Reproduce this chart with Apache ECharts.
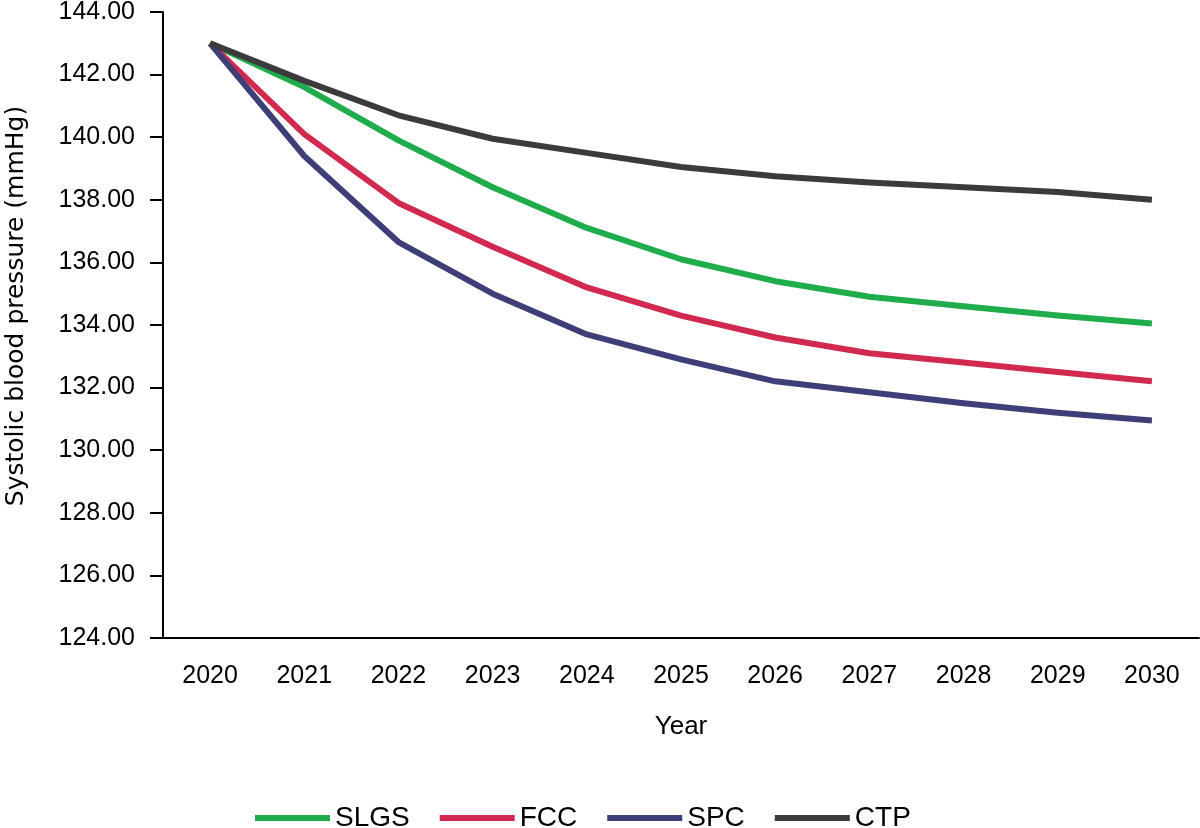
<!DOCTYPE html>
<html>
<head>
<meta charset="utf-8">
<script src="https://cdn.jsdelivr.net/npm/echarts@6/dist/echarts.min.js"></script>
<style>
html,body{margin:0;padding:0;background:#fff;}
#chart{width:1200px;height:828px;}
</style>
</head>
<body>
<div id="chart"></div>
<script>
const years = ['2020','2021','2022','2023','2024','2025','2026','2027','2028','2029','2030'];
const SLGS = [143.0, 141.6, 139.9, 138.4, 137.1, 136.1, 135.4, 134.9, 134.6, 134.3, 134.05];
const FCC  = [143.0, 140.1, 137.9, 136.5, 135.2, 134.3, 133.6, 133.1, 132.8, 132.5, 132.2];
const SPC  = [143.0, 139.4, 136.65, 135.0, 133.7, 132.9, 132.2, 131.85, 131.5, 131.2, 130.95];
const CTP  = [143.0, 141.8, 140.7, 139.95, 139.5, 139.05, 138.75, 138.55, 138.4, 138.25, 138.0];
const seriesNames = ['SLGS','FCC','SPC','CTP'];
const seriesData = [SLGS, FCC, SPC, CTP];
const colors = ['#1fad4b', '#d1294f', '#3e3f78', '#3b3b3b'];
const yMin = 124, yMax = 144, yStep = 2;

const chart = echarts.init(document.getElementById('chart'));
const font = 'Liberation Sans, Arial, sans-serif';
chart.setOption({
  animation: false,
  backgroundColor: '#ffffff',
  grid: {left: 163, right: 1, top: 12, bottom: 190, containLabel: false, outerBoundsMode: 'none'},
  legend: {
    left: 250, top: 799,
    icon: 'rect', itemWidth: 75, itemHeight: 6, itemGap: 30,
    textStyle: {fontFamily: font, fontSize: 28, color: '#000'},
    data: seriesNames
  },
  xAxis: {
    type: 'category', data: years, boundaryGap: true,
    name: 'Year', nameLocation: 'middle', nameGap: 76,
    nameTextStyle: {fontFamily: font, fontSize: 26, color: '#000'},
    axisLine: {lineStyle: {color: '#000', width: 2}},
    axisTick: {show: false},
    axisLabel: {fontFamily: font, fontSize: 25, color: '#000', margin: 26}
  },
  yAxis: {
    type: 'value', min: yMin, max: yMax, interval: yStep,
    name: 'Systolic blood pressure (mmHg)', nameLocation: 'middle', nameGap: 134,
    nameTextStyle: {fontFamily: 'DejaVu Sans, sans-serif', fontSize: 25, color: '#000',
      padding: [0, 0, 0, 38]},
    axisLine: {show: true, lineStyle: {color: '#000', width: 2}},
    axisTick: {show: true, length: 13, lineStyle: {color: '#000', width: 2}},
    splitLine: {show: false},
    axisLabel: {fontFamily: font, fontSize: 25, color: '#000', margin: 28,
      formatter: v => v.toFixed(2)}
  },
  series: seriesNames.map((n, i) => ({
    name: n, type: 'line', data: seriesData[i],
    symbol: 'none', smooth: false,
    lineStyle: {color: colors[i], width: 6, join: 'round'},
    itemStyle: {color: colors[i]}
  }))
});
</script>
</body>
</html>
